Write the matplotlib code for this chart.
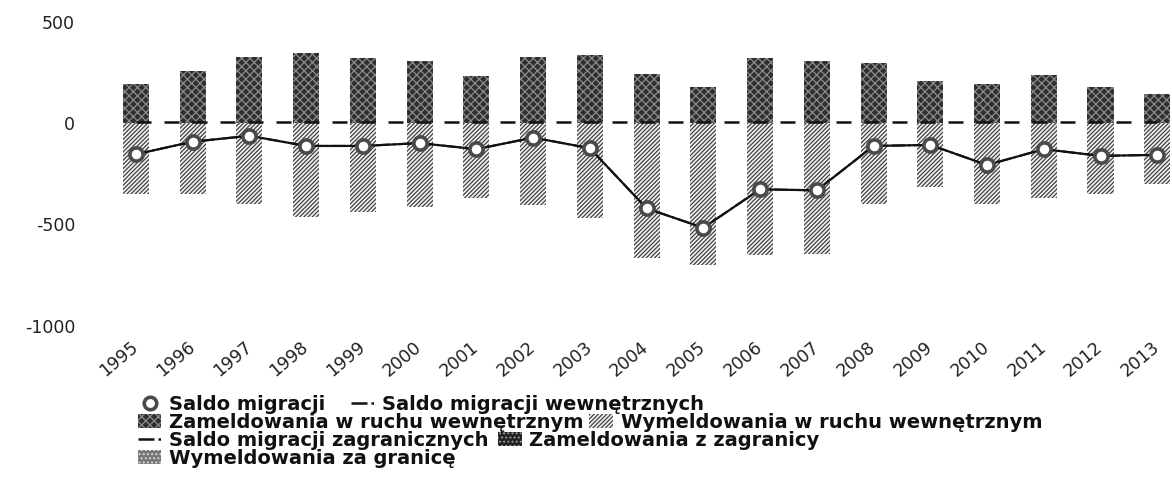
import matplotlib
matplotlib.use("Agg")
import matplotlib.pyplot as plt
from matplotlib.lines import Line2D
from matplotlib.patches import Patch

plt.rcParams['axes.unicode_minus'] = False
plt.rcParams['hatch.linewidth'] = 0.9

years = list(range(1995, 2014))
zameldowania_wewn = [191, 254, 327, 343, 320, 303, 233, 327, 337, 241, 178, 320, 307, 294, 208, 191, 238, 178, 142]
wymeldowania_wewn = [-350, -350, -399, -465, -439, -416, -370, -406, -469, -667, -700, -653, -647, -401, -317, -399, -370, -350, -300]
saldo_migracji = [-155, -93, -64, -114, -114, -100, -130, -73, -125, -422, -518, -328, -333, -114, -109, -208, -130, -163, -158]
saldo_wewn = [-155, -93, -64, -114, -114, -100, -130, -73, -125, -422, -518, -328, -333, -114, -109, -208, -130, -163, -158]
saldo_zagr = [2, 2, 2, 2, 2, 2, 2, 2, 2, 2, 2, 2, 2, 2, 2, 2, 2, 2, 2]
yticks = [500, 0, -500, -1000]

fig = plt.figure(figsize=(11.72, 4.92), dpi=100)
ax = fig.add_axes([0.070, 0.3384, 0.930, 0.6179])

bw = 0.46
ax.bar(years, zameldowania_wewn, width=bw, facecolor='#2f2f2f', edgecolor='#8c8c8c',
       hatch='xxxx', linewidth=0, zorder=2)
ax.bar(years, wymeldowania_wewn, width=bw, facecolor='#f2f2f2', edgecolor='#404040',
       hatch='////////', linewidth=0, zorder=2)

ax.plot(years, saldo_zagr, color='#111111', lw=1.8, dashes=(6.0, 5.2), zorder=3)
ax.plot(years, saldo_wewn, color='#111111', lw=1.5, linestyle='-.', zorder=3)
ax.plot(years, saldo_migracji, color='#111111', lw=1.6, marker='o', markersize=9.5,
        markerfacecolor='white', markeredgecolor='#4a4a4a', markeredgewidth=2.6, zorder=4)

ax.set_xlim(1994.05, 2013.26)
ax.set_ylim(-1000, 500)
ax.set_yticks(yticks)
ax.set_yticklabels([str(v) for v in yticks])
ax.set_xticks(years)
ax.set_xticklabels([str(y) for y in years], rotation=40, ha='right', va='center',
                   rotation_mode='anchor')
ax.tick_params(axis='both', length=0, labelsize=12.5, colors='#222222')
ax.tick_params(axis='x', pad=14)
ax.tick_params(axis='y', pad=5)
for s in ax.spines.values():
    s.set_visible(False)

fs = 14
common = dict(frameon=False, handlelength=1.2, handleheight=0.75,
              handletextpad=0.4, columnspacing=0.6, borderpad=0, borderaxespad=0,
              prop={'weight': 'bold', 'size': fs})

h_saldo = Line2D([], [], color='none', marker='o', markersize=9, markerfacecolor='white',
                 markeredgecolor='#4a4a4a', markeredgewidth=2.6)
h_wewn = Line2D([], [], color='#111111', lw=1.8, linestyle='-.')
h_zam_w = Patch(facecolor='#2f2f2f', edgecolor='#8c8c8c', hatch='xxxx', linewidth=0)
h_wym_w = Patch(facecolor='#f2f2f2', edgecolor='#404040', hatch='////////', linewidth=0)
h_zagr = Line2D([], [], color='#111111', lw=1.8, linestyle='-.')
h_zam_z = Patch(facecolor='#222222', edgecolor='#9a9a9a', hatch='....', linewidth=0)
h_wym_z = Patch(facecolor='#777777', edgecolor='#dddddd', hatch='....', linewidth=0)

rows = [
    ([h_saldo, h_wewn], ['Saldo migracji', 'Saldo migracji wewnętrznych'], 1.3),
    ([h_zam_w, h_wym_w], ['Zameldowania w ruchu wewnętrznym', 'Wymeldowania w ruchu wewnętrznym'], 0.3),
    ([h_zagr, h_zam_z], ['Saldo migracji zagranicznych', 'Zameldowania z zagranicy'], 0.5),
    ([h_wym_z], ['Wymeldowania za granicę'], 0.5),
]
row_tops = [395, 413, 431, 449]
for (hs, ls, cs), top in zip(rows, row_tops):
    kw = dict(common)
    kw['columnspacing'] = cs
    lg = fig.legend(hs, ls, loc='upper left', ncol=len(hs),
                    bbox_to_anchor=(138 / 1172, 1 - top / 492), **kw)
    for t in lg.get_texts():
        t.set_color('#111111')

fig.savefig('out.png', dpi=100)
